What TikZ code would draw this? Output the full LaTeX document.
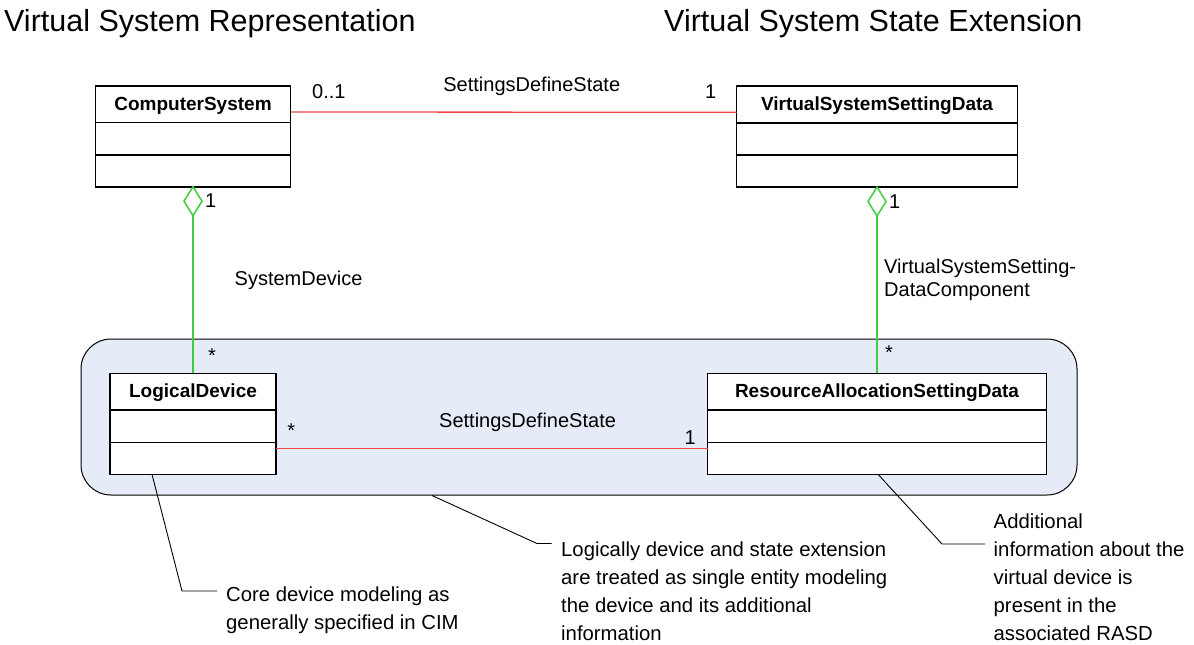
\documentclass[tikz,border=0pt]{standalone}
\usepackage{fontspec}
\setmainfont{Liberation Sans}
\usetikzlibrary{shapes.geometric,calc}

\definecolor{groupblue}{HTML}{E6ECF7}
\definecolor{assocred}{HTML}{F04545}
\definecolor{aggrgreen}{HTML}{40CC40}

\tikzstyle{heading}=[font=\fontsize{30.5}{36}\selectfont, inner sep=0pt, anchor=base west]
\tikzstyle{classbox}=[draw, line width=1.6pt, fill=white, inner sep=0pt, outer sep=0pt, minimum height=101pt]
\tikzstyle{classname}=[font=\fontsize{19}{23}\selectfont\bfseries, inner sep=0pt, anchor=base]
\tikzstyle{lbl}=[font=\fontsize{20}{24}\selectfont, inner sep=0pt]
\tikzstyle{assoc}=[draw=assocred, line width=1.3pt]
\tikzstyle{aggr}=[draw=aggrgreen, line width=1.2pt]
\tikzstyle{aggrhead}=[diamond, draw=aggrgreen, line width=1.5pt, fill=white, inner sep=0pt, outer sep=0pt, minimum width=18pt, minimum height=29pt, anchor=north]
\tikzstyle{note}=[font=\fontsize{20.3}{28}\selectfont, align=left, inner sep=0pt, anchor=west]
\tikzstyle{noteline}=[draw, line width=0.9pt]

\begin{document}
\begin{tikzpicture}[x=1pt, y=-1pt]
  \useasboundingbox (0,0) rectangle (1194,645);

  \node[heading] (hrep) at (4,31.7) {Virtual System Representation};
  \node[heading] (hext) at (664,31.7) {Virtual System State Extension};

  % device + state extension group
  \node[draw, line width=1pt, rounded corners=30pt, fill=groupblue, minimum width=996pt, minimum height=156pt] (grp) at (579,417) {};

  \node[classbox, minimum width=195pt] (cs) at (193,136.2) {};
  \node[classbox, minimum width=281pt] (vssd) at (877,136.5) {};
  \node[classbox, minimum width=166pt] (ld) at (193,423.8) {};
  \node[classbox, minimum width=339pt] (rasd) at (877,423.8) {};

  \foreach \cls/\txt in {cs/ComputerSystem, vssd/VirtualSystemSettingData, ld/LogicalDevice, rasd/ResourceAllocationSettingData}{
    \node[classname] (\cls-name) at ($(\cls.north)+(0,24.5)$) {\txt};
    \draw[line width=1.6pt] ($(\cls.north west)+(0,36.8)$) -- ($(\cls.north east)+(0,36.8)$);
    \draw[line width=1.6pt] ($(\cls.north west)+(0,69.2)$) -- ($(\cls.north east)+(0,69.2)$);
  }

  % aggregations
  \node[aggrhead] (csdia) at (cs.south) {};
  \node[aggrhead] (vssddia) at (vssd.south) {};
  \draw[aggr] (csdia.south) -- (ld.north);
  \draw[aggr] (vssddia.south) -- (rasd.north);

  \node[lbl, anchor=base west] (csmult) at ($(csdia.north)+(12,21)$) {1};
  \node[lbl, anchor=base west] (vssdmult) at ($(vssddia.north)+(12,21)$) {1};
  \node[lbl] (ldmult) at ($(ld.north)+(19,-17.5)$) {*};
  \node[lbl] (rasdmult) at ($(rasd.north)+(12,-21)$) {*};

  \node[lbl, anchor=base west] (sdlbl) at (234.5,285) {SystemDevice};
  \node[lbl, align=left, anchor=west, font=\fontsize{20}{23.3}\selectfont] (vsdclbl) at (884,279.8) {VirtualSystemSetting-\\DataComponent};

  % associations
  \draw[assoc] ($(cs.north east)+(0,26.3)$) -- ($(vssd.north west)+(0,26.3)$)
    node[lbl, pos=0, anchor=base west, xshift=21pt, yshift=13.7pt] (csend) {0..1}
    node[lbl, pos=.541, anchor=base, yshift=21pt] (topassoc) {SettingsDefineState}
    node[lbl, pos=1, anchor=base east, xshift=-19.5pt, yshift=13.7pt] (vssdend) {1};
  \draw[assoc] ($(ld.north east)+(0,75.5)$) -- ($(rasd.north west)+(0,75.5)$)
    node[lbl, pos=0, xshift=15.2pt, yshift=18.6pt] (ldend) {*}
    node[lbl, pos=.583, anchor=base, yshift=21pt] (lowassoc) {SettingsDefineState}
    node[lbl, pos=1, anchor=base east, xshift=-11pt, yshift=4.3pt] (rasdend) {1};

  % notes
  \node[note] (coremodel) at (226,609.8) {Core device modeling as\\generally specified in CIM};
  \node[note] (singleent) at (561,591) {Logically device and state extension\\are treated as single entity modeling\\the device and its additional\\information};
  \node[note] (addinfo) at (993.5,577.5) {Additional\\information about the\\virtual device is\\present in the\\associated RASD};

  \coordinate (ldtip) at ($(ld.south)+(-41,0)$);
  \coordinate (ldknee) at (182,591);
  \coordinate (grptip) at ($(grp.south)+(-147,0)$);
  \coordinate (grpknee) at (537,543.5);
  \coordinate (rasdtip) at ($(rasd.south)+(1,0)$);
  \coordinate (rasdknee) at (942,544);
  \draw[noteline] (ldtip) -- (ldknee) -- ($(coremodel.west |- ldknee)+(-9,0)$);
  \draw[noteline] (grptip) -- (grpknee) -- ($(singleent.west |- grpknee)+(-9.5,0)$);
  \draw[noteline] (rasdtip) -- (rasdknee) -- ($(addinfo.west |- rasdknee)+(-8.5,0)$);
\end{tikzpicture}
\end{document}
